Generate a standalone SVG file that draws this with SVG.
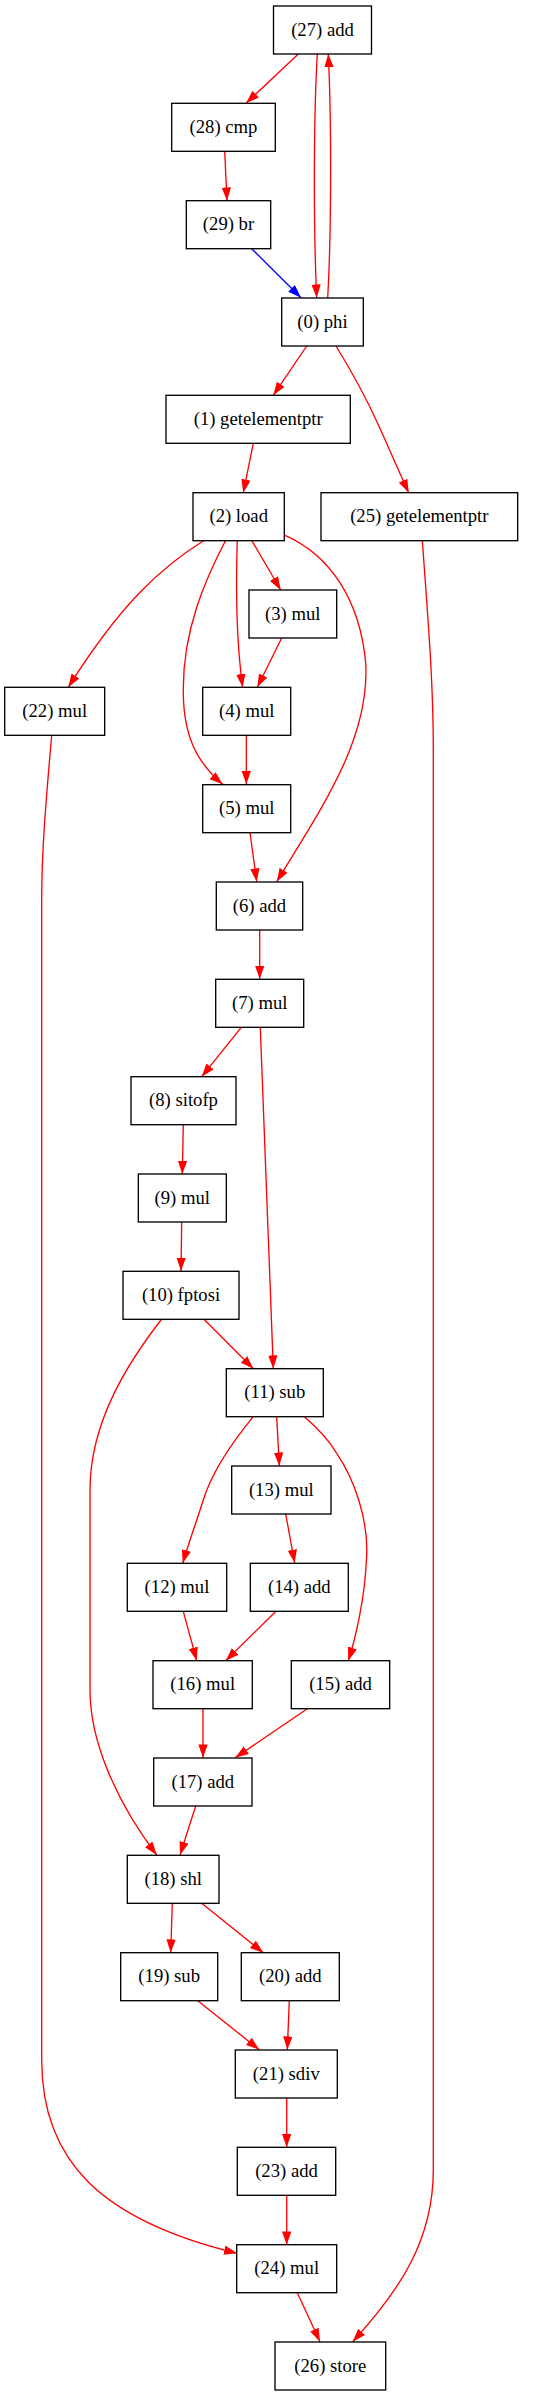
<svg xmlns="http://www.w3.org/2000/svg" width="541" height="2396" viewBox="0 0 541 2396">
<style>
.node rect{fill:#fff;stroke:#000;stroke-width:1.33}
.node text{font-family:"Liberation Serif","Times New Roman",serif;font-size:18.67px;fill:#000;text-anchor:middle}
.edge path{fill:none;stroke:#f00;stroke-width:1.33}
.edge path.blue{stroke:#00f}
</style>
<defs>
<marker id="ar" markerUnits="userSpaceOnUse" markerWidth="14" markerHeight="10" refX="13.3" refY="4.67" orient="auto" viewBox="0 0 14 10"><path d="M0,0 L13.3,4.67 L0,9.33 Z" fill="#f00"/></marker>
<marker id="ab" markerUnits="userSpaceOnUse" markerWidth="14" markerHeight="10" refX="13.3" refY="4.67" orient="auto" viewBox="0 0 14 10"><path d="M0,0 L13.3,4.67 L0,9.33 Z" fill="#00f"/></marker>
</defs>
<rect width="541" height="2396" fill="#fff"/>
<g id="edges" class="edge">
<path marker-end="url(#ar)" d="M298.3,54 L246,103.3"/>
<path marker-end="url(#ar)" d="M317.3,54 C313.5,120 313.5,230 316.7,297.7"/>
<path marker-end="url(#ar)" d="M327.7,297.7 C331.5,230 331.5,120 328.3,54"/>
<path marker-end="url(#ar)" d="M224.7,151.3 L227,200.7"/>
<path class="blue" marker-end="url(#ab)" d="M251.7,248.7 L301,297.7"/>
<path marker-end="url(#ar)" d="M306.7,346 L273.3,395.3"/>
<path marker-end="url(#ar)" d="M336,346 C352,372 368,402 378,424 C388,446 400,474 408.7,492.7"/>
<path marker-end="url(#ar)" d="M253.3,443.3 L243.3,492.7"/>
<path marker-end="url(#ar)" d="M251.7,540.3 L280.7,590"/>
<path marker-end="url(#ar)" d="M237.3,540.3 C236,580 236,640 242.7,687.3"/>
<path marker-end="url(#ar)" d="M225.7,540.3 C205,580 183,630 183.3,690 C183,740 200,765 222.7,784.3"/>
<path marker-end="url(#ar)" d="M285,535.3 C330,555 360,600 365.7,663.3 C370,740 320,810 276.7,881.7"/>
<path marker-end="url(#ar)" d="M204.3,540.3 C160,568 120,605 68.3,687.3"/>
<path marker-end="url(#ar)" d="M51.7,735.3 C46,800 41.7,850 41.7,900 L41.7,2060 C41.7,2160 100,2220 237.3,2253.3"/>
<path marker-end="url(#ar)" d="M422.3,540.3 C428,620 433.3,680 433.3,750 L433.3,2170 C433.3,2240 400,2290 352.7,2341.7"/>
<path marker-end="url(#ar)" d="M281.7,638 L257.3,687.3"/>
<path marker-end="url(#ar)" d="M246.3,735.3 L246.3,784.3"/>
<path marker-end="url(#ar)" d="M250,832.7 L256.7,881.7"/>
<path marker-end="url(#ar)" d="M259.7,930 L259.7,979"/>
<path marker-end="url(#ar)" d="M241.3,1027.3 L201.7,1076.7"/>
<path marker-end="url(#ar)" d="M260.3,1027.3 L273.3,1368.7"/>
<path marker-end="url(#ar)" d="M183.3,1124.7 L182.3,1174"/>
<path marker-end="url(#ar)" d="M181.7,1222.3 L181,1271"/>
<path marker-end="url(#ar)" d="M203.7,1319 L253.3,1368.7"/>
<path marker-end="url(#ar)" d="M161.7,1319 C130,1360 90,1420 90,1490 L90,1690 C90,1740 115,1800 156.7,1855"/>
<path marker-end="url(#ar)" d="M253.3,1416.7 C230,1445 212,1472 203.3,1500 C197,1520 188,1545 182.7,1563.3"/>
<path marker-end="url(#ar)" d="M276.7,1416.7 L279.3,1465.7"/>
<path marker-end="url(#ar)" d="M304.3,1416.7 C320,1430 330,1442 336.7,1453.3 C355,1480 368,1520 366.7,1555 C365,1600 355,1640 348.3,1660.7"/>
<path marker-end="url(#ar)" d="M183.3,1611.3 L196.7,1660.7"/>
<path marker-end="url(#ar)" d="M285.7,1514 L294.7,1563"/>
<path marker-end="url(#ar)" d="M276,1611.3 L225.7,1660.7"/>
<path marker-end="url(#ar)" d="M307.3,1708.7 L235.3,1757.7"/>
<path marker-end="url(#ar)" d="M203,1708.7 L203,1757.7"/>
<path marker-end="url(#ar)" d="M195.7,1806 L180,1855"/>
<path marker-end="url(#ar)" d="M172.3,1903.3 L170.7,1952.7"/>
<path marker-end="url(#ar)" d="M201.7,1903.3 L263.3,1952.7"/>
<path marker-end="url(#ar)" d="M197.7,2000.7 L259.3,2049.7"/>
<path marker-end="url(#ar)" d="M289.3,2000.7 L287.3,2049.7"/>
<path marker-end="url(#ar)" d="M286.7,2097.7 L286.7,2147.3"/>
<path marker-end="url(#ar)" d="M286.7,2195.3 L286.7,2244.7"/>
<path marker-end="url(#ar)" d="M297.3,2292.7 L320,2341.7"/>
</g>
<g id="n27" class="node"><rect x="273.5" y="6" width="98" height="48"/><text x="322.5" y="35.5">(27) add</text></g>
<g id="n28" class="node"><rect x="171.7" y="103.3" width="103.6" height="48"/><text x="223.5" y="132.8">(28) cmp</text></g>
<g id="n29" class="node"><rect x="186.3" y="200.7" width="84.4" height="48"/><text x="228.5" y="230.2">(29) br</text></g>
<g id="n0" class="node"><rect x="281.7" y="298" width="81.6" height="48"/><text x="322.5" y="327.5">(0) phi</text></g>
<g id="n1" class="node"><rect x="166" y="395.3" width="184.3" height="48"/><text x="258.2" y="424.8">(1) getelementptr</text></g>
<g id="n2" class="node"><rect x="193" y="492.7" width="91.3" height="48"/><text x="238.7" y="522.2">(2) load</text></g>
<g id="n25" class="node"><rect x="321" y="492.7" width="196.7" height="48"/><text x="419.3" y="522.2">(25) getelementptr</text></g>
<g id="n3" class="node"><rect x="249" y="590" width="87.7" height="48"/><text x="292.8" y="619.5">(3) mul</text></g>
<g id="n22" class="node"><rect x="4.7" y="687.3" width="100" height="48"/><text x="54.7" y="716.8">(22) mul</text></g>
<g id="n4" class="node"><rect x="202.7" y="687.3" width="88" height="48"/><text x="246.7" y="716.8">(4) mul</text></g>
<g id="n5" class="node"><rect x="202.7" y="784.7" width="88" height="48"/><text x="246.7" y="814.2">(5) mul</text></g>
<g id="n6" class="node"><rect x="216.3" y="882" width="86.4" height="48"/><text x="259.5" y="911.5">(6) add</text></g>
<g id="n7" class="node"><rect x="215.7" y="979.3" width="88" height="48"/><text x="259.7" y="1008.8">(7) mul</text></g>
<g id="n8" class="node"><rect x="131" y="1076.7" width="105" height="48"/><text x="183.5" y="1106.2">(8) sitofp</text></g>
<g id="n9" class="node"><rect x="138.3" y="1174" width="88" height="48"/><text x="182.3" y="1203.5">(9) mul</text></g>
<g id="n10" class="node"><rect x="123" y="1271.3" width="116" height="48"/><text x="181" y="1300.8">(10) fptosi</text></g>
<g id="n11" class="node"><rect x="226.3" y="1368.7" width="97" height="48"/><text x="274.8" y="1398.2">(11) sub</text></g>
<g id="n13" class="node"><rect x="231.7" y="1466" width="99.3" height="48"/><text x="281.3" y="1495.5">(13) mul</text></g>
<g id="n12" class="node"><rect x="127.3" y="1563.3" width="99.4" height="48"/><text x="177" y="1592.8">(12) mul</text></g>
<g id="n14" class="node"><rect x="250.3" y="1563.3" width="98" height="48"/><text x="299.3" y="1592.8">(14) add</text></g>
<g id="n16" class="node"><rect x="153" y="1660.7" width="99.3" height="48"/><text x="202.7" y="1690.2">(16) mul</text></g>
<g id="n15" class="node"><rect x="291.3" y="1660.7" width="98.4" height="48"/><text x="340.5" y="1690.2">(15) add</text></g>
<g id="n17" class="node"><rect x="153.7" y="1758" width="98.3" height="48"/><text x="202.8" y="1787.5">(17) add</text></g>
<g id="n18" class="node"><rect x="127.3" y="1855.3" width="91.7" height="48"/><text x="173.2" y="1884.8">(18) shl</text></g>
<g id="n19" class="node"><rect x="120.7" y="1952.7" width="97" height="48"/><text x="169.2" y="1982.2">(19) sub</text></g>
<g id="n20" class="node"><rect x="241.3" y="1952.7" width="98" height="48"/><text x="290.3" y="1982.2">(20) add</text></g>
<g id="n21" class="node"><rect x="235.3" y="2050" width="102" height="48"/><text x="286.3" y="2079.5">(21) sdiv</text></g>
<g id="n23" class="node"><rect x="237.3" y="2147.3" width="98.4" height="48"/><text x="286.5" y="2176.8">(23) add</text></g>
<g id="n24" class="node"><rect x="236.7" y="2244.7" width="100" height="48"/><text x="286.7" y="2274.2">(24) mul</text></g>
<g id="n26" class="node"><rect x="275" y="2342" width="110.7" height="48"/><text x="330.3" y="2371.5">(26) store</text></g>
</svg>
